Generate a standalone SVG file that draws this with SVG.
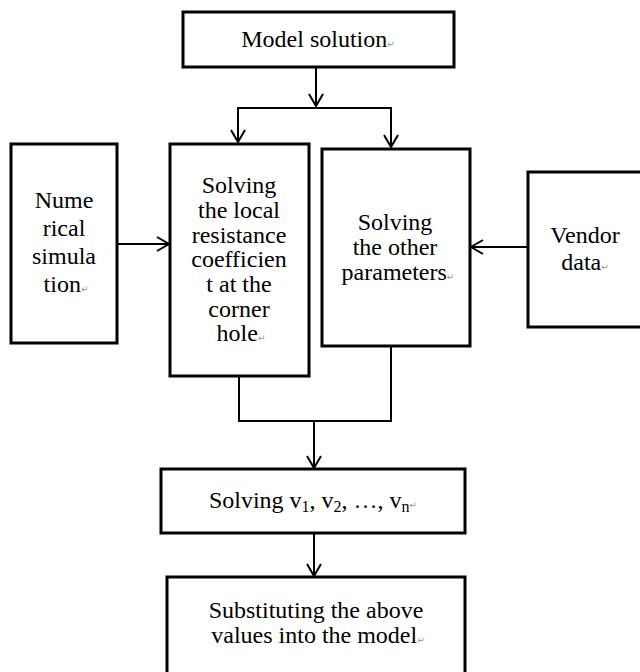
<svg xmlns="http://www.w3.org/2000/svg" width="640" height="672" viewBox="0 0 640 672">
<style>
.box{fill:#fff;stroke:#000;stroke-width:3}
text.t{font-family:'Liberation Serif','Times New Roman',Times,serif;font-size:24px;fill:#000;text-anchor:middle}
.pm{font-family:'DejaVu Sans',sans-serif;font-size:9px;fill:#999}
.sub{font-size:16px}
.c{fill:none;stroke:#000;stroke-width:2}
</style>
<defs>
<marker id="arr" markerUnits="userSpaceOnUse" markerWidth="16" markerHeight="16" viewBox="0 0 16 16" refX="14" refY="8" orient="auto">
<path d="M2,1 L14,8 L2,15" fill="none" stroke="#000" stroke-width="2"/>
</marker>
</defs>
<rect width="640" height="672" fill="#fff"/>
<g id="connectors">
<path class="c" d="M316,67 V106" marker-end="url(#arr)"/>
<path class="c" d="M238,142 V108 H391 V147"/>
<path class="c" d="M238,108 V142" marker-end="url(#arr)"/>
<path class="c" d="M391,108 V147" marker-end="url(#arr)"/>
<path class="c" d="M117,244 H169" marker-end="url(#arr)"/>
<path class="c" d="M528,247 H471" marker-end="url(#arr)"/>
<path class="c" d="M239,377 V421 H391 V347"/>
<path class="c" d="M314,421 V468" marker-end="url(#arr)"/>
<path class="c" d="M314,534 V576" marker-end="url(#arr)"/>
</g>
<g id="model-solution">
<rect class="box" x="183" y="12" width="271" height="55"/>
<text class="t" font-family="Liberation Serif" x="318" y="47">Model solution<tspan class="pm">↵</tspan></text>
</g>
<g id="numerical-simulation">
<rect class="box" x="11" y="144" width="106" height="199"/>
<text class="t" font-family="Liberation Serif" x="64" y="208">Nume</text>
<text class="t" font-family="Liberation Serif" x="64" y="236">rical</text>
<text class="t" font-family="Liberation Serif" x="64" y="264">simula</text>
<text class="t" font-family="Liberation Serif" x="66" y="292">tion<tspan class="pm">↵</tspan></text>
</g>
<g id="local-resistance">
<rect class="box" x="170" y="144" width="139" height="232"/>
<text class="t" font-family="Liberation Serif" x="239" y="193">Solving</text>
<text class="t" font-family="Liberation Serif" x="239" y="218">the local</text>
<text class="t" font-family="Liberation Serif" x="239" y="243">resistance</text>
<text class="t" font-family="Liberation Serif" x="239" y="267">coefficien</text>
<text class="t" font-family="Liberation Serif" x="239" y="292">t at the</text>
<text class="t" font-family="Liberation Serif" x="239" y="317">corner</text>
<text class="t" font-family="Liberation Serif" x="241" y="341">hole<tspan class="pm">↵</tspan></text>
</g>
<g id="other-parameters">
<rect class="box" x="322" y="149" width="148" height="197"/>
<text class="t" font-family="Liberation Serif" x="395" y="230">Solving</text>
<text class="t" font-family="Liberation Serif" x="395" y="255">the other</text>
<text class="t" font-family="Liberation Serif" x="398" y="280">parameters<tspan class="pm">↵</tspan></text>
</g>
<g id="vendor-data">
<rect class="box" x="528" y="172" width="120" height="155"/>
<text class="t" font-family="Liberation Serif" x="585" y="243">Vendor</text>
<text class="t" font-family="Liberation Serif" x="585" y="270">data<tspan class="pm">↵</tspan></text>
</g>
<g id="solving-v">
<rect class="box" x="161" y="469" width="304" height="64"/>
<text class="t" font-family="Liberation Serif" x="313" y="508">Solving v<tspan class="sub" dy="4">1</tspan><tspan dy="-4">, v</tspan><tspan class="sub" dy="4">2</tspan><tspan dy="-4">,  …, v</tspan><tspan class="sub" dy="4">n</tspan><tspan class="pm" dy="-4">↵</tspan></text>
</g>
<g id="substituting">
<rect class="box" x="167" y="577" width="298" height="100"/>
<text class="t" font-family="Liberation Serif" x="316" y="618">Substituting the above</text>
<text class="t" font-family="Liberation Serif" x="318" y="643">values into the model<tspan class="pm">↵</tspan></text>
</g>
</svg>
